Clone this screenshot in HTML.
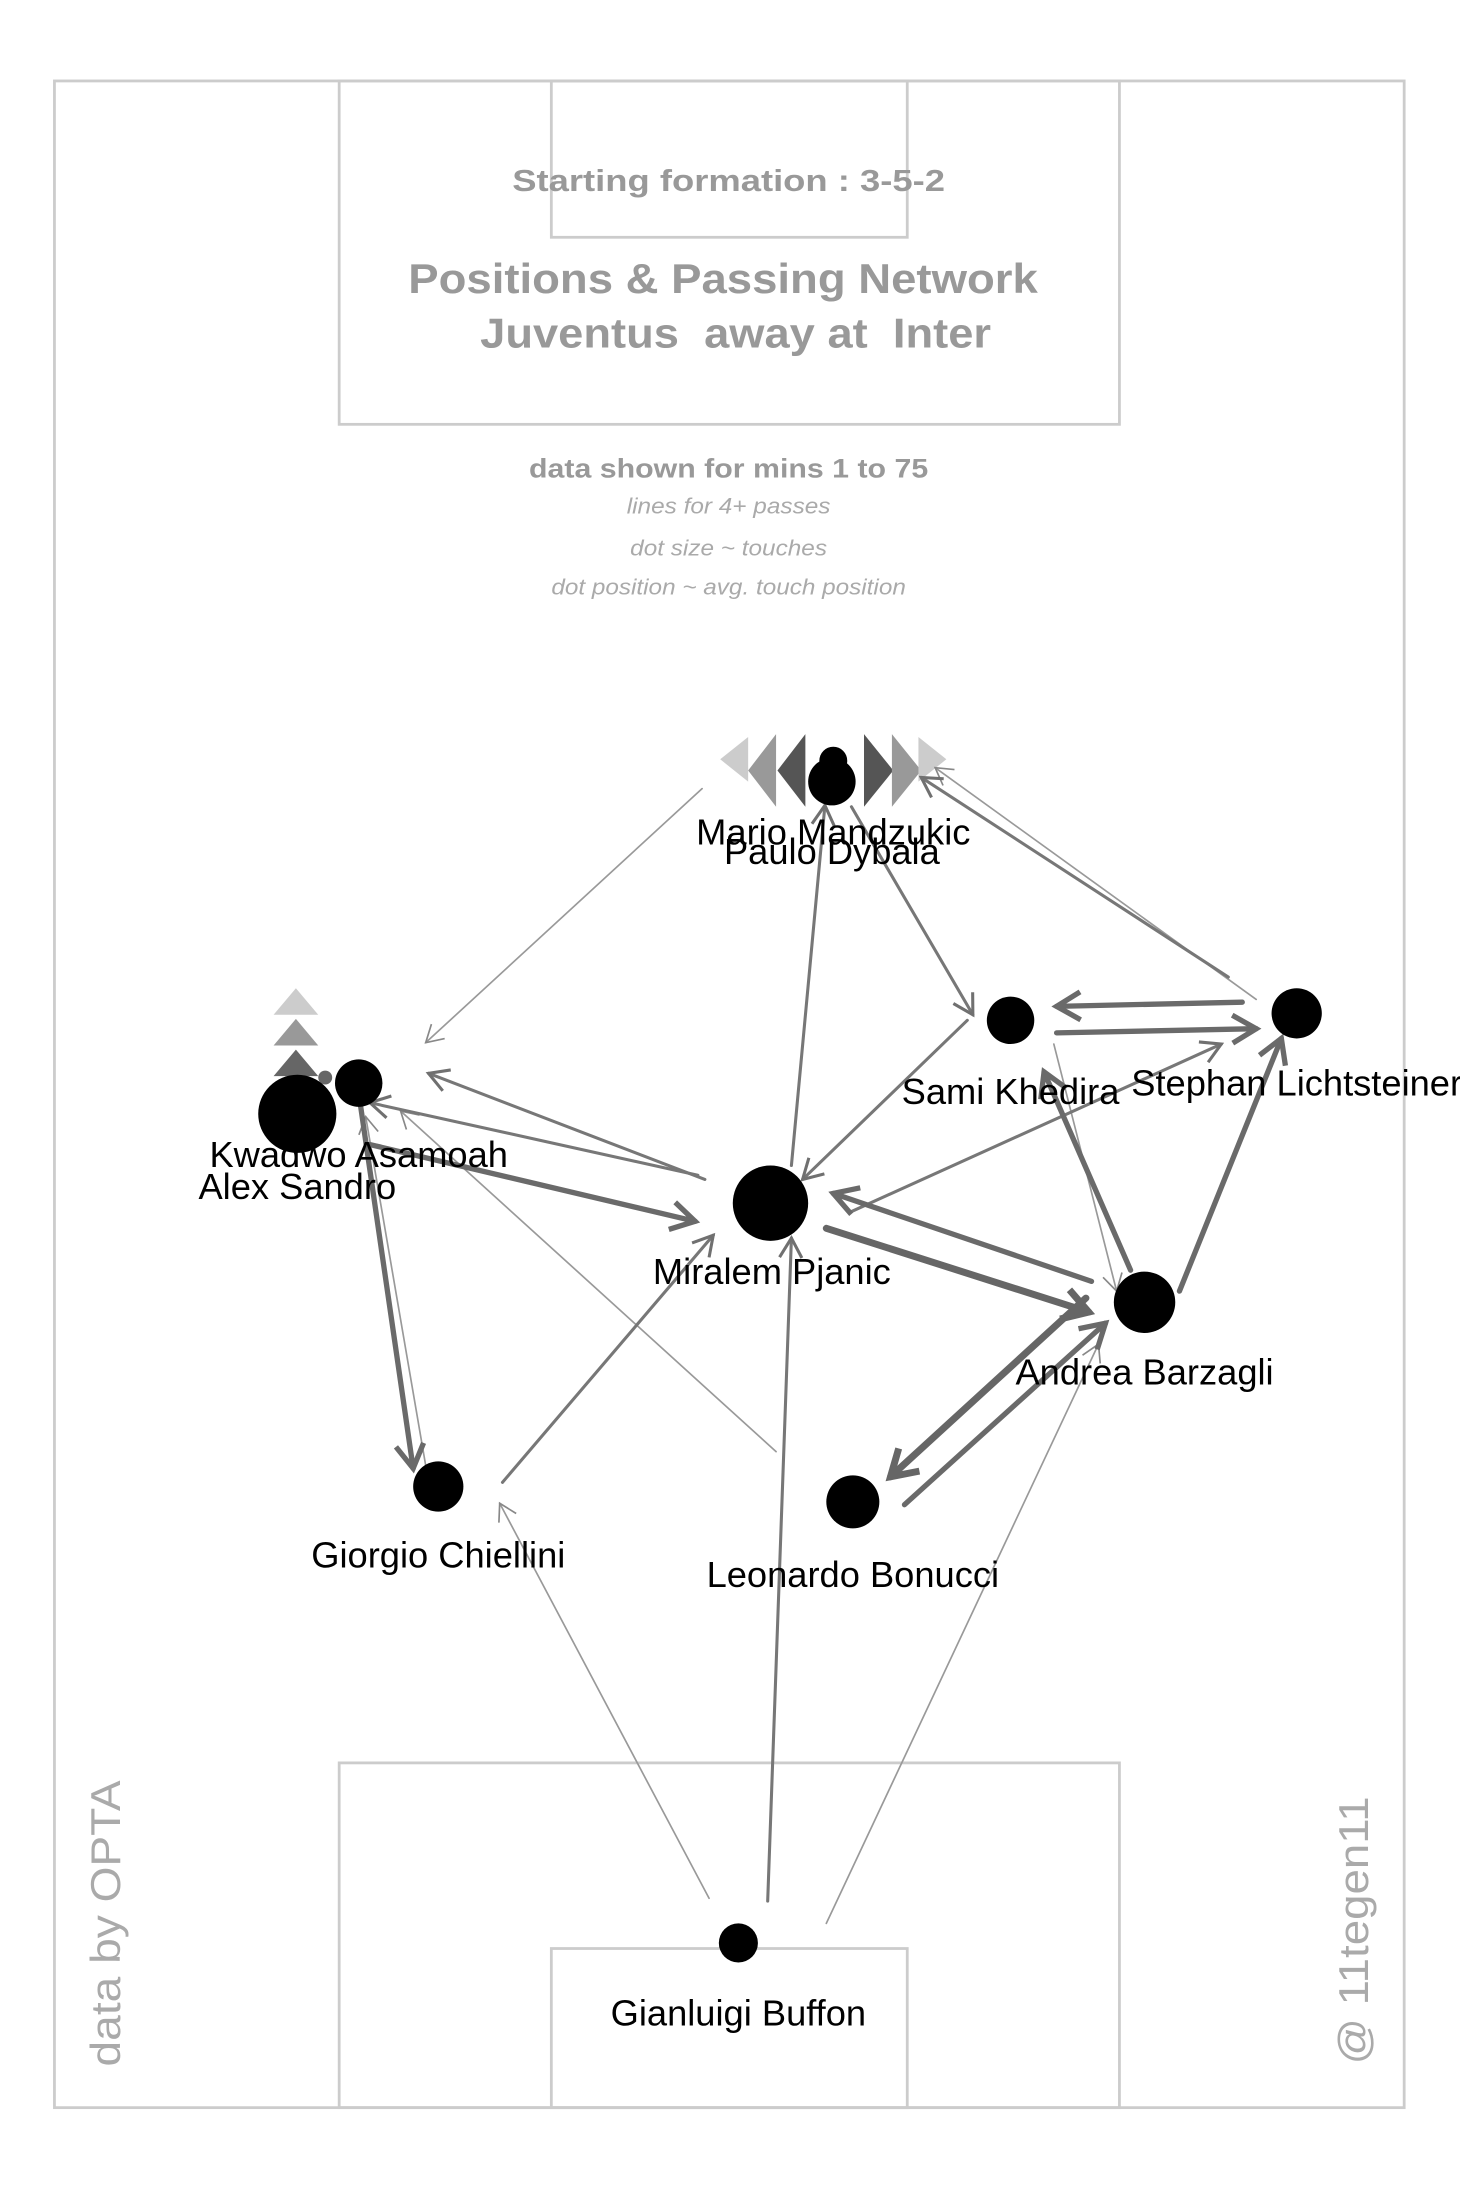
<!DOCTYPE html>
<html><head><meta charset="utf-8"><style>html,body{margin:0;padding:0;background:#fff}svg{display:block}</style></head>
<body>
<svg width="1460" height="2190" viewBox="0 0 1046 1569" xmlns="http://www.w3.org/2000/svg" font-family="Liberation Sans, sans-serif">
<defs>
<marker id="a1" markerUnits="userSpaceOnUse" markerWidth="30" markerHeight="30" refX="14" refY="10" viewBox="0 0 30 20" orient="auto"><path d="M2,3 L14,10 L2,17" fill="none" stroke="#888" stroke-width="1.2"/></marker>
<marker id="a2" markerUnits="userSpaceOnUse" markerWidth="30" markerHeight="30" refX="16" refY="10" viewBox="0 0 30 20" orient="auto"><path d="M2,2 L16,10 L2,18" fill="none" stroke="#707070" stroke-width="2.2"/></marker>
<marker id="a3" markerUnits="userSpaceOnUse" markerWidth="34" markerHeight="34" refX="19" refY="12" viewBox="0 0 34 24" orient="auto"><path d="M2,2 L19,12 L2,22" fill="none" stroke="#6a6a6a" stroke-width="3.8"/></marker>
<marker id="a4" markerUnits="userSpaceOnUse" markerWidth="36" markerHeight="36" refX="20" refY="13" viewBox="0 0 36 26" orient="auto"><path d="M2,2 L20,13 L2,24" fill="none" stroke="#666" stroke-width="5"/></marker>
</defs>
<rect width="1046" height="1569" fill="#fff"/>
<g fill="none" stroke="#ccc" stroke-width="2">
<rect x="39" y="58" width="967" height="1452"/>
<rect x="243" y="58" width="559" height="246"/>
<rect x="395" y="58" width="255" height="112"/>
<rect x="243" y="1263" width="559" height="247"/>
<rect x="395" y="1396" width="255" height="114"/>
</g>
<g fill="#999" text-anchor="middle" font-weight="bold">
<text x="522" y="137" font-size="22" textLength="310" lengthAdjust="spacingAndGlyphs">Starting formation : 3-5-2</text>
<text x="518" y="210" font-size="30" textLength="451" lengthAdjust="spacingAndGlyphs">Positions &amp; Passing Network</text>
<text x="527" y="249" font-size="30" textLength="366" lengthAdjust="spacingAndGlyphs" xml:space="preserve">Juventus  away at  Inter</text>
<text x="522" y="342" font-size="19" textLength="286" lengthAdjust="spacingAndGlyphs">data shown for mins 1 to 75</text>
</g>
<g fill="#aaa" text-anchor="middle" font-style="italic" font-size="16">
<text x="522" y="368" textLength="146" lengthAdjust="spacingAndGlyphs">lines for 4+ passes</text>
<text x="522" y="398" textLength="141" lengthAdjust="spacingAndGlyphs">dot size ~ touches</text>
<text x="522" y="426" textLength="254" lengthAdjust="spacingAndGlyphs">dot position ~ avg. touch position</text>
</g>
<text transform="translate(86,1378) rotate(-90)" text-anchor="middle" font-size="30" fill="#aaa" textLength="205" lengthAdjust="spacingAndGlyphs">data by OPTA</text>
<text transform="translate(980,1383) rotate(-90)" text-anchor="middle" font-size="30" fill="#aaa" textLength="192" lengthAdjust="spacingAndGlyphs">@ 11tegen11</text>
<!-- triangles -->
<g>
<polygon points="536,528 536,560 516,544" fill="#ccc"/>
<polygon points="556,526 556,578 536,552" fill="#999"/>
<polygon points="577,526 577,578 557,552" fill="#555"/>
<polygon points="619,526 619,578 640,552" fill="#555"/>
<polygon points="639,526 639,578 660,552" fill="#999"/>
<polygon points="658,528 658,560 678,544" fill="#ccc"/>
<polygon points="212,708 196,727 228,727" fill="#ccc"/>
<polygon points="212,730 196,749 228,749" fill="#999"/>
<polygon points="212,752 196,771 228,771" fill="#666"/>
</g>
<!-- edges -->
<g fill="none" stroke-linecap="round">
<g stroke="#999" stroke-width="1.2" marker-end="url(#a1)">
<line x1="503" y1="565" x2="305" y2="747"/>
<line x1="900" y1="716" x2="670" y2="550"/>
<line x1="755" y1="748" x2="800" y2="925"/>
<line x1="305" y1="1050" x2="262" y2="800"/>
<line x1="556" y1="1040" x2="287" y2="796"/>
<line x1="508" y1="1360" x2="358" y2="1077"/>
<line x1="592" y1="1378" x2="787" y2="963"/>
</g>
<g stroke="#777" stroke-width="2.2" marker-end="url(#a2)">
<line x1="567" y1="835" x2="591" y2="577"/>
<line x1="610" y1="578" x2="697" y2="727"/>
<line x1="880" y1="700" x2="660" y2="557"/>
<line x1="693" y1="731" x2="575" y2="845"/>
<line x1="610" y1="868" x2="875" y2="748"/>
<line x1="505" y1="845" x2="307" y2="769"/>
<line x1="500" y1="842" x2="265" y2="790"/>
<line x1="360" y1="1062" x2="511" y2="885"/>
<line x1="550" y1="1362" x2="567" y2="887"/>
</g>
<g stroke="#6a6a6a" stroke-width="3.8" marker-end="url(#a3)">
<line x1="890" y1="718" x2="757" y2="721"/>
<line x1="757" y1="740" x2="900" y2="737"/>
<line x1="810" y1="910" x2="748" y2="768"/>
<line x1="845" y1="925" x2="918" y2="744"/>
<line x1="782" y1="918" x2="597" y2="855"/>
<line x1="648" y1="1078" x2="792" y2="948"/>
<line x1="265" y1="820" x2="498" y2="875"/>
<line x1="258" y1="790" x2="296" y2="1052"/>
</g>
<g stroke="#666" stroke-width="5" marker-end="url(#a4)">
<line x1="592" y1="880" x2="780" y2="940"/>
<line x1="778" y1="930" x2="638" y2="1058"/>
</g>
</g>
<!-- nodes -->
<g fill="#000">
<circle cx="597" cy="545" r="10"/>
<circle cx="596" cy="560" r="17"/>
<circle cx="724" cy="731" r="17"/>
<circle cx="929" cy="726" r="18"/>
<circle cx="233" cy="772" r="5" fill="#666"/>
<circle cx="257" cy="776" r="17"/>
<circle cx="213" cy="798" r="28"/>
<circle cx="552" cy="862" r="27"/>
<circle cx="820" cy="933" r="22"/>
<circle cx="314" cy="1065" r="18"/>
<circle cx="611" cy="1076" r="19"/>
<circle cx="529" cy="1392" r="14"/>
</g>
<g fill="#000" font-size="26" text-anchor="middle">
<text x="597" y="605">Mario Mandzukic</text>
<text x="596" y="619">Paulo Dybala</text>
<text x="724" y="791">Sami Khedira</text>
<text x="929" y="785">Stephan Lichtsteiner</text>
<text x="257" y="836">Kwadwo Asamoah</text>
<text x="213" y="859">Alex Sandro</text>
<text x="553" y="920">Miralem Pjanic</text>
<text x="820" y="992">Andrea Barzagli</text>
<text x="314" y="1123">Giorgio Chiellini</text>
<text x="611" y="1137">Leonardo Bonucci</text>
<text x="529" y="1451">Gianluigi Buffon</text>
</g>
</svg>
</body></html>
